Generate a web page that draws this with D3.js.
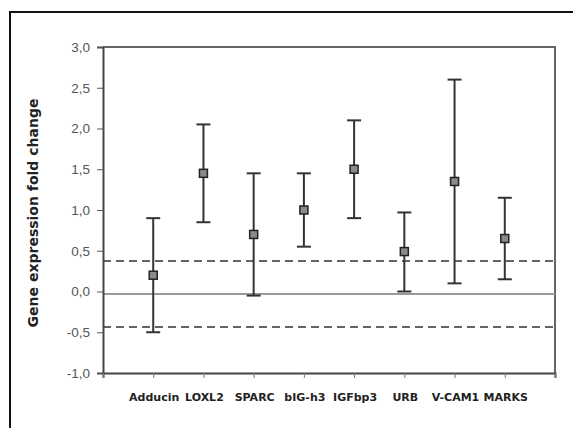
<!DOCTYPE html>
<html>
<head>
<meta charset="utf-8">
<script src="https://cdn.jsdelivr.net/npm/d3@7"></script>
<style>
  body { margin: 0; background: #fff; }
  svg { display: block; font-family: "DejaVu Sans", Verdana, sans-serif; }
  .tick-label { font-size: 13.5px; fill: #555; }
  .cat-label { font-size: 11px; font-weight: bold; fill: #222; }
</style>
</head>
<body>
<div id="chart"></div>
<script>
// Data
const genes = ['Adducin', 'LOXL2', 'SPARC', 'bIG-h3', 'IGFbp3', 'URB', 'V-CAM1', 'MARKS']
const foldChange = [0.2, 1.45, 0.7, 1.0, 1.5, 0.49, 1.35, 0.65]
const upperBound = [0.9, 2.05, 1.45, 1.45, 2.1, 0.97, 2.6, 1.15]
const lowerBound = [-0.5, 0.85, -0.05, 0.55, 0.9, 0.0, 0.1, 0.15]
const yTicks = [-1, -0.5, 0, 0.5, 1, 1.5, 2, 2.5, 3]
const baseline = -0.03
const thresholds = [0.375, -0.435]

const drawChart = () => {
  const width = 573
  const height = 428
  const plot = { left: 103, top: 47, right: 555, bottom: 373 }

  const svg = d3.select('#chart')
    .append('svg')
    .attr('width', width)
    .attr('height', height)

  // Outer chart frame (runs off the right and bottom of the picture)
  svg.append('rect')
    .attr('x', 10).attr('y', 12)
    .attr('width', 700).attr('height', 600)
    .attr('fill', '#fff')
    .attr('stroke', '#111')
    .attr('stroke-width', 2)

  // Scales
  const x = d3.scaleLinear().domain([0, 9]).range([plot.left, plot.right])
  const y = d3.scaleLinear().domain([-1, 3]).range([plot.bottom, plot.top])

  // Plot area border: top and right in lighter grey
  svg.append('path')
    .attr('d', `M${plot.left},${plot.top}H${plot.right}V${plot.bottom}`)
    .attr('fill', 'none')
    .attr('stroke', '#666')
    .attr('stroke-width', 2)

  // Baseline and threshold lines
  svg.append('line')
    .attr('x1', plot.left).attr('x2', plot.right)
    .attr('y1', y(baseline)).attr('y2', y(baseline))
    .attr('stroke', '#9a9a9a')
    .attr('stroke-width', 2)

  svg.selectAll('.threshold')
    .data(thresholds)
    .join('line')
    .attr('class', 'threshold')
    .attr('x1', plot.left).attr('x2', plot.right)
    .attr('y1', d => y(d)).attr('y2', d => y(d))
    .attr('stroke', '#333')
    .attr('stroke-width', 1.5)
    .attr('stroke-dasharray', '8,5')

  // Left axis
  const yAxis = svg.append('g')
    .attr('transform', `translate(${plot.left}, 0)`)
    .call(d3.axisLeft(y).tickValues(yTicks).tickSize(6).tickPadding(7)
      .tickFormat(d => d3.format('.1f')(d).replace('.', ',').replace('\u2212', '-')))
  yAxis.select('.domain').attr('stroke', '#444').attr('stroke-width', 2)
  yAxis.selectAll('.tick line').attr('stroke', '#555')
  yAxis.selectAll('.tick text').attr('class', 'tick-label').attr('font-size', null).attr('font-family', null)

  // Bottom axis
  const xAxis = svg.append('g')
    .attr('transform', `translate(0, ${plot.bottom})`)
    .call(d3.axisBottom(x).tickValues(d3.range(0, 10)).tickSize(5).tickFormat(''))
  xAxis.select('.domain').attr('stroke', '#444').attr('stroke-width', 2)
  xAxis.selectAll('.tick line').attr('stroke', '#777')

  // Category labels
  svg.selectAll('.cat-label')
    .data(genes)
    .join('text')
    .attr('class', 'cat-label')
    .attr('x', (d, i) => x(i + 1) + 1)
    .attr('y', 401)
    .attr('text-anchor', 'middle')
    .text(d => d)

  // Axis title
  svg.append('text')
    .attr('transform', `translate(38, 213) rotate(-90)`)
    .attr('text-anchor', 'middle')
    .attr('font-size', 14)
    .attr('font-weight', 'bold')
    .attr('fill', '#222')
    .text('Gene expression fold change')

  // Error bars
  const bars = svg.append('g')
  genes.forEach((g, i) => {
    const cx = x(i + 1)
    bars.append('line')
      .attr('x1', cx).attr('x2', cx)
      .attr('y1', y(lowerBound[i])).attr('y2', y(upperBound[i]))
      .attr('stroke', '#333').attr('stroke-width', 2)
    ;[lowerBound[i], upperBound[i]].forEach(v => {
      bars.append('line')
        .attr('x1', cx - 7).attr('x2', cx + 7)
        .attr('y1', y(v)).attr('y2', y(v))
        .attr('stroke', '#333').attr('stroke-width', 2)
    })
  })

  // Mean markers
  svg.selectAll('.marker')
    .data(foldChange)
    .join('rect')
    .attr('class', 'marker')
    .attr('x', (d, i) => x(i + 1) - 4)
    .attr('y', d => y(d) - 4)
    .attr('width', 8).attr('height', 8)
    .attr('fill', '#8a8a8a')
    .attr('stroke', '#222')
    .attr('stroke-width', 1.5)
}

drawChart()
</script>
</body>
</html>
